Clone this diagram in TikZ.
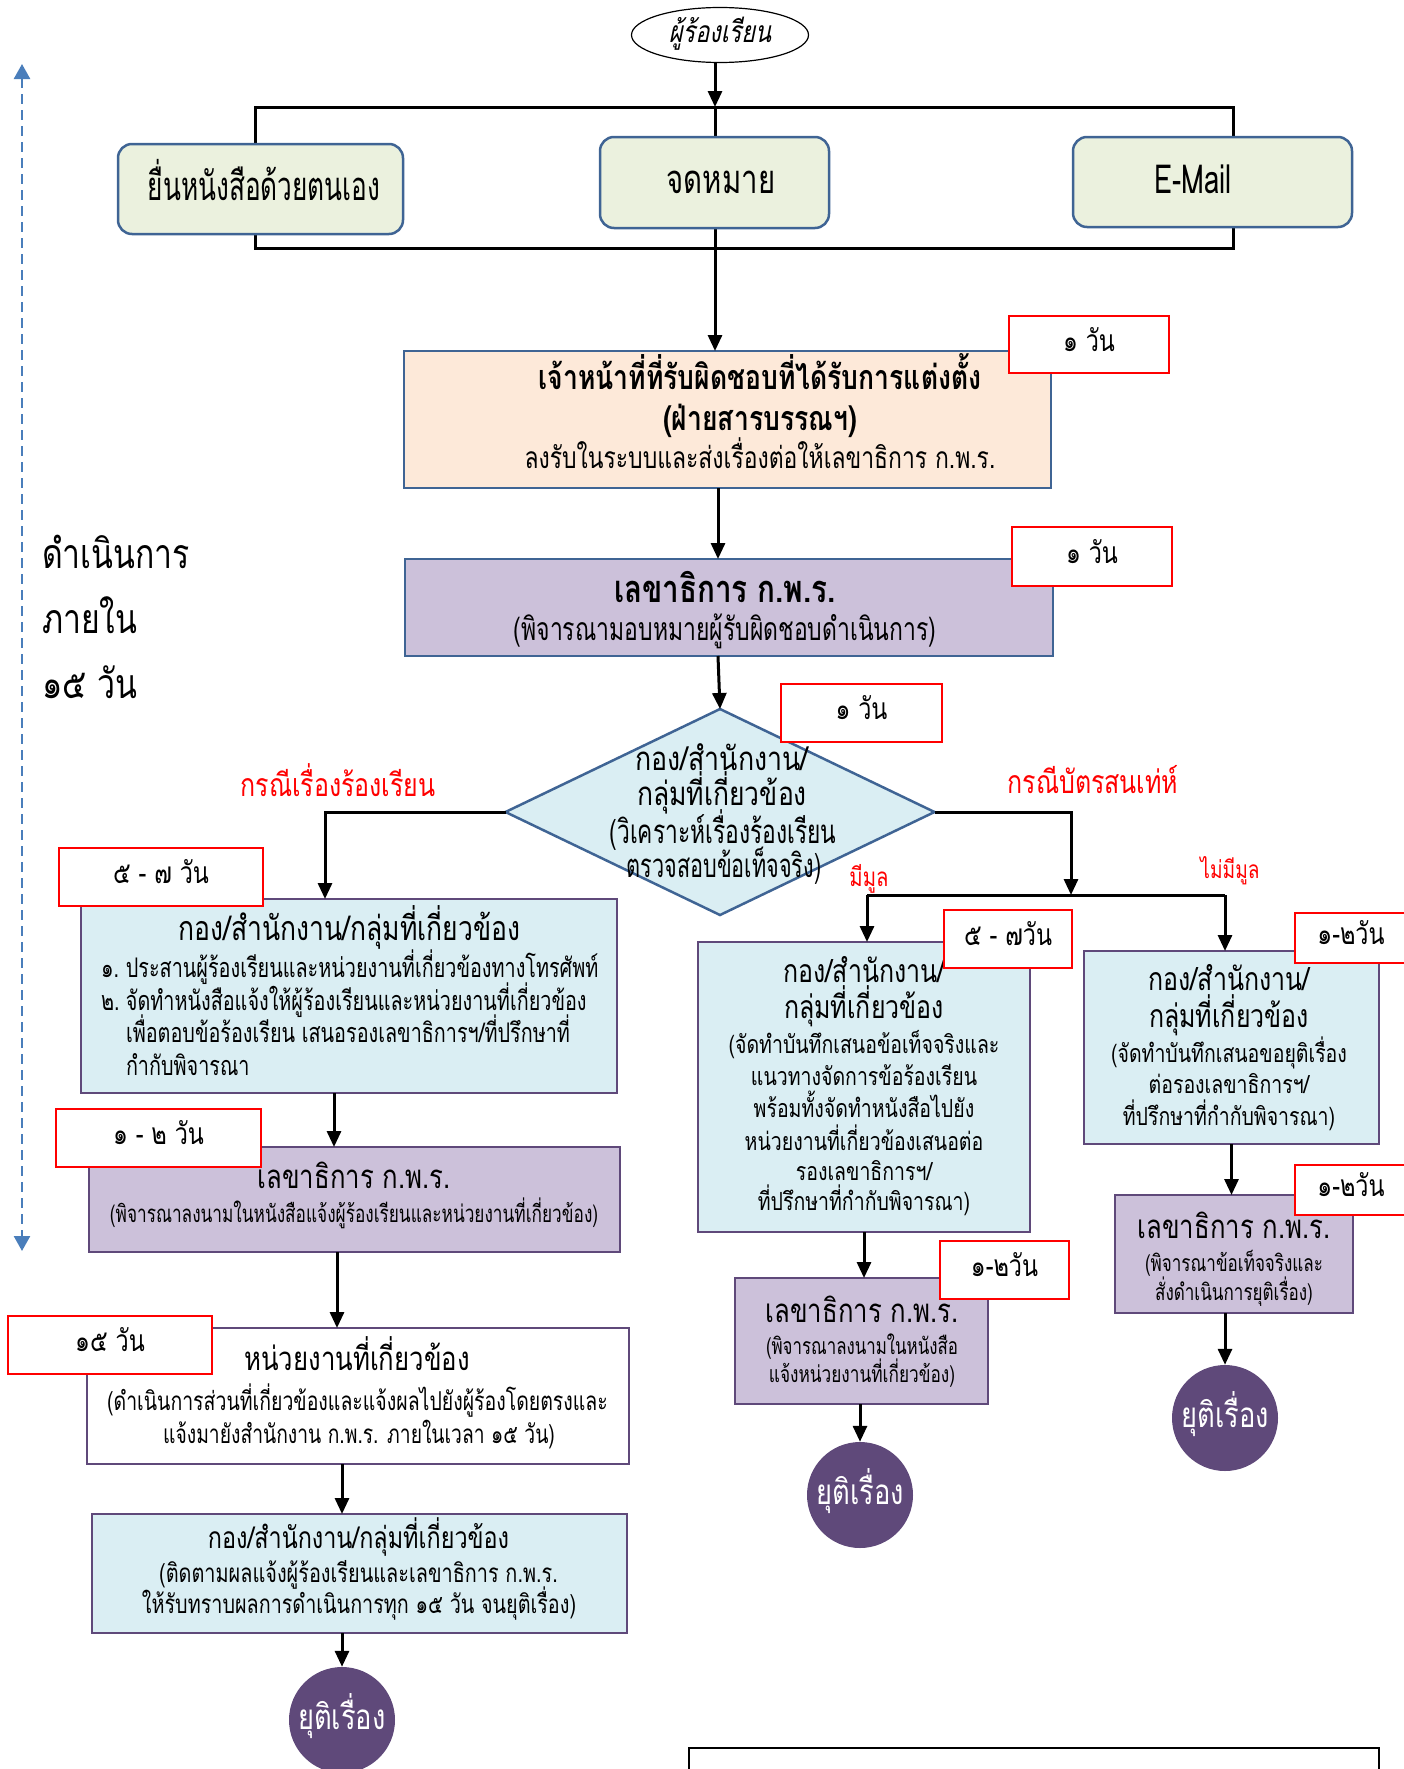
\documentclass[tikz,border=0pt]{standalone}
\usepackage{fontspec}
\setmainfont{Loma}[Script=Thai,FakeStretch=0.78]
\newfontfamily\slantthai{Loma}[Script=Thai,FakeStretch=0.78,FakeSlant=0.2]
\usetikzlibrary{arrows.meta,shapes.geometric,backgrounds}
\newcommand\fsz[1]{\fontsize{#1}{#1}\selectfont}
\newcommand\hsq[2]{\scalebox{#1}[1]{#2}}
\definecolor{bordblue}{HTML}{3F6494}
\definecolor{bordpurp}{HTML}{5F497A}
\definecolor{fillgreen}{HTML}{EBF1DE}
\definecolor{fillpeach}{HTML}{FDE9D9}
\definecolor{fillpurp}{HTML}{CCC1DA}
\definecolor{fillblue}{HTML}{DAEEF3}
\definecolor{endpurp}{HTML}{5F497A}
\definecolor{dashblue}{HTML}{4A7EBB}
\definecolor{redline}{HTML}{FF0000}
\tikzset{
  shp/.style={inner sep=0pt, outer sep=0pt, line width=2.5pt},
  greenbox/.style={shp, rectangle, draw=bordblue, fill=fillgreen, rounded corners=14pt},
  peachbox/.style={shp, rectangle, draw=bordblue, fill=fillpeach},
  purpboxb/.style={shp, rectangle, draw=bordblue, fill=fillpurp},
  purpbox/.style={shp, rectangle, draw=bordpurp, fill=fillpurp},
  bluebox/.style={shp, rectangle, draw=bordpurp, fill=fillblue},
  diabox/.style={shp, diamond, draw=bordblue, fill=fillblue},
  whitebox/.style={shp, rectangle, draw=bordpurp, fill=white},
  daybox/.style={shp, rectangle, draw=redline, fill=white, line width=2pt, font=\fsz{30}, text height=13pt, text depth=0pt},
  endcirc/.style={circle, fill=endpurp, minimum size=106pt, inner sep=0pt, text=white, font=\fsz{35}, text height=19pt, text depth=0pt},
  lbl/.style={anchor=base, inner sep=0pt, outer sep=0pt},
  lblw/.style={anchor=base west, inner sep=0pt, outer sep=0pt},
  redlbl/.style={lbl, text=redline},
  flow/.style={line width=3pt, -{Triangle[length=16pt,width=14pt]}},
  bar/.style={line width=3pt},
}
\begin{document}
\begin{tikzpicture}[x=1pt,y=-1pt]
\useasboundingbox (0,0) rectangle (1403,1769);
% ---------- top ----------
\node[ellipse, draw=black, line width=1.2pt, minimum width=177pt, minimum height=55pt, inner sep=0pt, font=\slantthai\fsz{30}, text height=15pt, text depth=0pt] (ell) at (720,35) {ผู้ร้องเรียน};
\coordinate (ftop) at (715,107);
\coordinate (fbot) at (715,248);
\coordinate (frA) at (255,107);
\coordinate (frB) at (1233,248);
\node[greenbox, minimum width=285pt, minimum height=90pt] (g1) at (260.5,189) {};
\node[lbl, font=\fsz{40}] (g1t) at (264,200) {\hsq{0.84}{ยื่นหนังสือด้วยตนเอง}};
\node[greenbox, minimum width=229pt, minimum height=91pt] (g2) at (714.5,182.5) {};
\node[lbl, font=\fsz{40}] (g2t) at (721,193) {\hsq{0.94}{จดหมาย}};
\node[greenbox, minimum width=279pt, minimum height=90pt] (g3) at (1212.5,182) {};
\node[lbl, font=\fsz{40}] (g3t) at (1193,193) {\hsq{0.88}{E-Mail}};
\begin{scope}[on background layer]
  \draw[bar] (frA) rectangle (frB);
  \draw[bar] (ftop) -- (fbot);
\end{scope}
\draw[flow] (ell.south -| ftop) -- (ftop);
% ---------- box 1 ----------
\node[peachbox, minimum width=647pt, minimum height=137pt] (b1) at (727.5,419.5) {};
\node[lbl, font=\bfseries\fsz{34}] (b1a) at (760,389) {เจ้าหน้าที่ที่รับผิดชอบที่ได้รับการแต่งตั้ง};
\node[lbl, font=\bfseries\fsz{34}] (b1b) at (760,430) {(ฝ่ายสารบรรณฯ)};
\node[lbl, font=\fsz{30}] (b1c) at (760,468) {\hsq{0.98}{ลงรับในระบบและส่งเรื่องต่อให้เลขาธิการ ก.พ.ร.}};
\draw[flow] (fbot) -- (fbot |- b1.north);
% ---------- box 2 ----------
\node[purpboxb, minimum width=648pt, minimum height=97pt] (b2) at (729,607.5) {};
\node[lbl, font=\bfseries\fsz{38}] (b2a) at (725,602) {เลขาธิการ ก.พ.ร.};
\node[lbl, font=\fsz{32}] (b2b) at (725,640) {\hsq{0.92}{(พิจารณามอบหมายผู้รับผิดชอบดำเนินการ)}};
\draw[flow] ([xshift=-9.5pt]b1.south) -- ([xshift=-11pt]b2.north);
% ---------- diamond ----------
\node[diabox, minimum width=429pt, minimum height=206pt] (dia) at (720,812) {};
\node[lbl, font=\fsz{33}] (diaa) at (722,770) {\hsq{1.04}{กอง/สำนักงาน/}};
\node[lbl, font=\fsz{33}] (diab) at (722,805) {\hsq{1.03}{กลุ่มที่เกี่ยวข้อง}};
\node[lbl, font=\fsz{33}] (diac) at (723,843) {\hsq{0.885}{(วิเคราะห์เรื่องร้องเรียน}};
\node[lbl, font=\fsz{33}] (diad) at (724,877) {\hsq{0.84}{ตรวจสอบข้อเท็จจริง)}};
\draw[flow] ([xshift=-11pt]b2.south) -- (dia.north);
% ---------- left column ----------
\node[bluebox, minimum width=536pt, minimum height=194pt] (b3) at (349,996) {};
\node[lbl, font=\fsz{34}] (b3a) at (349.5,940) {กอง/สำนักงาน/กลุ่มที่เกี่ยวข้อง};
\node[lblw, font=\fsz{27}] (b3b) at (101,977) {\hsq{0.94}{\makebox[26.5pt][l]{๑.}ประสานผู้ร้องเรียนและหน่วยงานที่เกี่ยวข้องทางโทรศัพท์}};
\node[lblw, font=\fsz{27}] (b3c) at (101,1010) {\hsq{0.94}{\makebox[26.5pt][l]{๒.}จัดทำหนังสือแจ้งให้ผู้ร้องเรียนและหน่วยงานที่เกี่ยวข้อง}};
\node[lblw, font=\fsz{27}] (b3d) at (126,1042) {\hsq{0.94}{เพื่อตอบข้อร้องเรียน เสนอรองเลขาธิการฯ/ที่ปรึกษาที่}};
\node[lblw, font=\fsz{27}] (b3e) at (126,1075) {\hsq{0.94}{กำกับพิจารณา}};
\draw[flow] (dia.west) -| ([xshift=-24pt]b3.north);
\node[purpbox, minimum width=531pt, minimum height=105pt] (b4) at (354.5,1199.5) {};
\node[lbl, font=\fsz{33}] (b4a) at (354,1188) {เลขาธิการ ก.พ.ร.};
\node[lbl, font=\fsz{24}] (b4b) at (354,1222) {\hsq{0.92}{(พิจารณาลงนามในหนังสือแจ้งผู้ร้องเรียนและหน่วยงานที่เกี่ยวข้อง)}};
\draw[flow] ([xshift=-15pt]b3.south) -- ([xshift=-20.5pt]b4.north);
\node[whitebox, minimum width=542pt, minimum height=136pt] (b5) at (358,1396) {};
\node[lbl, font=\fsz{33}] (b5a) at (357,1370) {หน่วยงานที่เกี่ยวข้อง};
\node[lbl, font=\fsz{26}] (b5b) at (357.5,1410) {\hsq{0.96}{(ดำเนินการส่วนที่เกี่ยวข้องและแจ้งผลไปยังผู้ร้องโดยตรงและ}};
\node[lbl, font=\fsz{26}] (b5c) at (359,1443) {\hsq{0.95}{แจ้งมายังสำนักงาน ก.พ.ร. ภายในเวลา ๑๕ วัน)}};
\draw[flow] ([xshift=-17.5pt]b4.south) -- ([xshift=-21pt]b5.north);
\node[bluebox, minimum width=535pt, minimum height=119pt] (b6) at (359.5,1573.5) {};
\node[lbl, font=\fsz{30}] (b6a) at (358.5,1548) {กอง/สำนักงาน/กลุ่มที่เกี่ยวข้อง};
\node[lbl, font=\fsz{26}] (b6b) at (358.5,1582) {\hsq{0.98}{(ติดตามผลแจ้งผู้ร้องเรียนและเลขาธิการ ก.พ.ร.}};
\node[lbl, font=\fsz{26}] (b6c) at (359,1613) {\hsq{0.975}{ให้รับทราบผลการดำเนินการทุก ๑๕ วัน จนยุติเรื่อง)}};
\draw[flow] ([xshift=-16pt]b5.south) -- ([xshift=-17.5pt]b6.north);
\node[endcirc] (c1) at (342,1720) {ยุติเรื่อง};
\draw[flow] (c1.north |- b6.south) -- (c1.north);
% ---------- right branch ----------
\coordinate (split) at (1071,895);
\coordinate (ml) at (867,895);
\coordinate (mr) at (1225,895);
\draw[flow] (dia.east) -| (split);
\draw[bar] (ml) -- (mr);
\node[bluebox, minimum width=332pt, minimum height=290pt] (b7) at (864,1087) {};
\node[lbl, font=\fsz{32}] (b7a) at (864,982) {กอง/สำนักงาน/};
\node[lbl, font=\fsz{32}] (b7b) at (864,1018) {กลุ่มที่เกี่ยวข้อง};
\node[lbl, font=\fsz{25}] (b7c) at (864,1053) {(จัดทำบันทึกเสนอข้อเท็จจริงและ};
\node[lbl, font=\fsz{25}] (b7d) at (864,1085) {แนวทางจัดการข้อร้องเรียน};
\node[lbl, font=\fsz{25}] (b7e) at (864,1117) {พร้อมทั้งจัดทำหนังสือไปยัง};
\node[lbl, font=\fsz{25}] (b7f) at (864,1150) {หน่วยงานที่เกี่ยวข้องเสนอต่อ};
\node[lbl, font=\fsz{25}] (b7g) at (864,1180) {รองเลขาธิการฯ/};
\node[lbl, font=\fsz{25}] (b7h) at (864,1210) {ที่ปรึกษาที่กำกับพิจารณา)};
\draw[flow] (ml) -- (ml |- b7.north);
\node[bluebox, minimum width=295pt, minimum height=193pt] (b8) at (1231.5,1047.5) {};
\node[lbl, font=\fsz{32}] (b8a) at (1229,990) {กอง/สำนักงาน/};
\node[lbl, font=\fsz{32}] (b8b) at (1229,1027) {กลุ่มที่เกี่ยวข้อง};
\node[lbl, font=\fsz{25}] (b8c) at (1229,1062) {(จัดทำบันทึกเสนอขอยุติเรื่อง};
\node[lbl, font=\fsz{25}] (b8d) at (1229,1093) {ต่อรองเลขาธิการฯ/};
\node[lbl, font=\fsz{25}] (b8e) at (1229,1125) {ที่ปรึกษาที่กำกับพิจารณา)};
\draw[flow] (mr) -- (mr |- b8.north);
\node[purpbox, minimum width=238pt, minimum height=118pt] (b9) at (1234,1254) {};
\node[lbl, font=\fsz{33}] (b9a) at (1234,1238) {เลขาธิการ ก.พ.ร.};
\node[lbl, font=\fsz{23}] (b9b) at (1234,1271) {\hsq{0.95}{(พิจารณาข้อเท็จจริงและ}};
\node[lbl, font=\fsz{23}] (b9c) at (1234,1300) {\hsq{0.95}{สั่งดำเนินการยุติเรื่อง)}};
\draw[flow] (b8.south) -- (b8.south |- b9.north);
\node[endcirc] (c3) at (1225,1418) {ยุติเรื่อง};
\draw[flow] (c3.north |- b9.south) -- (c3.north);
\node[purpbox, minimum width=253pt, minimum height=126pt] (b10) at (861.5,1341) {};
\node[lbl, font=\fsz{33}] (b10a) at (862,1322) {เลขาธิการ ก.พ.ร.};
\node[lbl, font=\fsz{23}] (b10b) at (862,1354) {\hsq{0.94}{(พิจารณาลงนามในหนังสือ}};
\node[lbl, font=\fsz{23}] (b10c) at (862,1382) {\hsq{0.96}{แจ้งหน่วยงานที่เกี่ยวข้อง)}};
\draw[flow] (b7.south) -- (b7.south |- b10.north);
\node[endcirc] (c2) at (860,1495) {ยุติเรื่อง};
\draw[flow] (c2.north |- b10.south) -- (c2.north);
% ---------- branch labels ----------
\node[redlbl, font=\fsz{32}] (lab1) at (338,796) {กรณีเรื่องร้องเรียน};
\node[redlbl, font=\fsz{32}] (lab2) at (1093,793) {กรณีบัตรสนเท่ห์};
\node[redlbl, font=\fsz{26}] (lab3) at (869,886) {มีมูล};
\node[redlbl, font=\fsz{24.5}] (lab4) at (1230,878) {ไม่มีมูล};
% ---------- day boxes ----------
\node[daybox, minimum width=160pt, minimum height=57pt] (d1) at (1089,344.5) {๑ วัน};
\node[daybox, minimum width=160pt, minimum height=59pt] (d2) at (1092,556.5) {๑ วัน};
\node[daybox, minimum width=161pt, minimum height=58pt] (d3) at (861.5,713) {๑ วัน};
\node[daybox, minimum width=204pt, minimum height=58pt] (d4) at (161,877) {๕ - ๗ วัน};
\node[daybox, minimum width=205pt, minimum height=58pt] (d5) at (158.5,1138) {๑ - ๒ วัน};
\node[daybox, minimum width=204pt, minimum height=58pt] (d6) at (110,1345) {๑๕ วัน};
\node[daybox, minimum width=128pt, minimum height=58pt] (d7) at (1008,939) {๕ - ๗วัน};
\node[daybox, minimum width=112pt, minimum height=50pt] (d8) at (1351,938) {๑-๒วัน};
\node[daybox, minimum width=112pt, minimum height=50pt] (d9) at (1351,1190) {๑-๒วัน};
\node[daybox, minimum width=129pt, minimum height=58pt] (d10) at (1004.5,1270) {๑-๒วัน};
% ---------- side note ----------
\coordinate (dtop) at (22,64);
\coordinate (dbot) at (22,1251);
\draw[dashblue, line width=2.5pt, dash pattern=on 10pt off 6pt, {Triangle[length=15pt,width=16pt]}-{Triangle[length=15pt,width=16pt]}] (dtop) -- (dbot);
\node[lblw, font=\fsz{41}] (s1) at (42,568) {ดำเนินการ};
\node[lblw, font=\fsz{41}] (s2) at (42,633) {ภายใน};
\node[lblw, font=\fsz{41}] (s3) at (42,698) {๑๕ วัน};
% ---------- bottom frame ----------
\node[draw=black, line width=1.5pt, minimum width=690pt, minimum height=40pt, inner sep=0pt, anchor=north west] (br) at (688,1747) {};
\end{tikzpicture}
\end{document}
